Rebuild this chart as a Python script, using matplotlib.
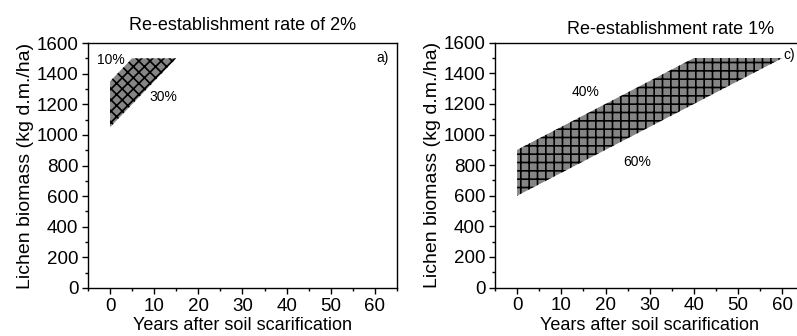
import matplotlib.pyplot as plt
from matplotlib.ticker import MultipleLocator

plt.rcParams['font.family'] = ['Liberation Sans', 'DejaVu Sans']
plt.rcParams['hatch.linewidth'] = 1.2

# polygon vertices (years, biomass kg d.m./ha)
left_x = [0, 5, 15, 0]
left_y = [1350, 1500, 1500, 1050]
right_x = [0, 40, 60, 0]
right_y = [900, 1500, 1500, 600]

left_title = 'Re-establishment rate of 2%'
right_title = 'Re-establishment rate 1%'
left_labels = [('10%', 0.2, 1490), ('30%', 12, 1245), ('a)', 61.7, 1500)]
right_labels = [('40%', 15.5, 1280), ('60%', 27.2, 820), ('c)', 61.5, 1520)]

fill_col = '#858585'

fig = plt.figure(figsize=(7.97, 3.36), dpi=100)
ax1 = fig.add_axes([0.1104, 0.1429, 0.3877, 0.729])
ax2 = fig.add_axes([0.6211, 0.1443, 0.3883, 0.7286])

for ax, px, py, hatch, labels in [(ax1, left_x, left_y, 'xxx', left_labels),
                                  (ax2, right_x, right_y, '++', right_labels)]:
    ax.fill(px, py, facecolor=fill_col, edgecolor='black', linewidth=0, hatch=hatch)
    for txt, x, y in labels:
        ax.text(x, y, txt, fontsize=10, ha='center', va='center')
    ax.set_xlim(-5, 65)
    ax.set_ylim(0, 1600)
    ax.xaxis.set_major_locator(MultipleLocator(10))
    ax.xaxis.set_minor_locator(MultipleLocator(5))
    ax.yaxis.set_major_locator(MultipleLocator(200))
    ax.yaxis.set_minor_locator(MultipleLocator(100))
    ax.tick_params(which='major', direction='out', length=4, width=1, labelsize=13.5, pad=3)
    ax.tick_params(which='minor', direction='out', length=2.5, width=1)
    for sp in ax.spines.values():
        sp.set_linewidth(1)
    ax.set_xlabel('Years after soil scarification', fontsize=13, labelpad=2)
    ax.set_ylabel('Lichen biomass (kg d.m./ha)', fontsize=14, labelpad=2)

fig.text(243 / 797, 1 - 25 / 336, left_title, fontsize=13, ha='center', va='center')
fig.text(671 / 797, 1 - 29 / 336, right_title, fontsize=13, ha='center', va='center')

fig.savefig('out.png', dpi=100)
